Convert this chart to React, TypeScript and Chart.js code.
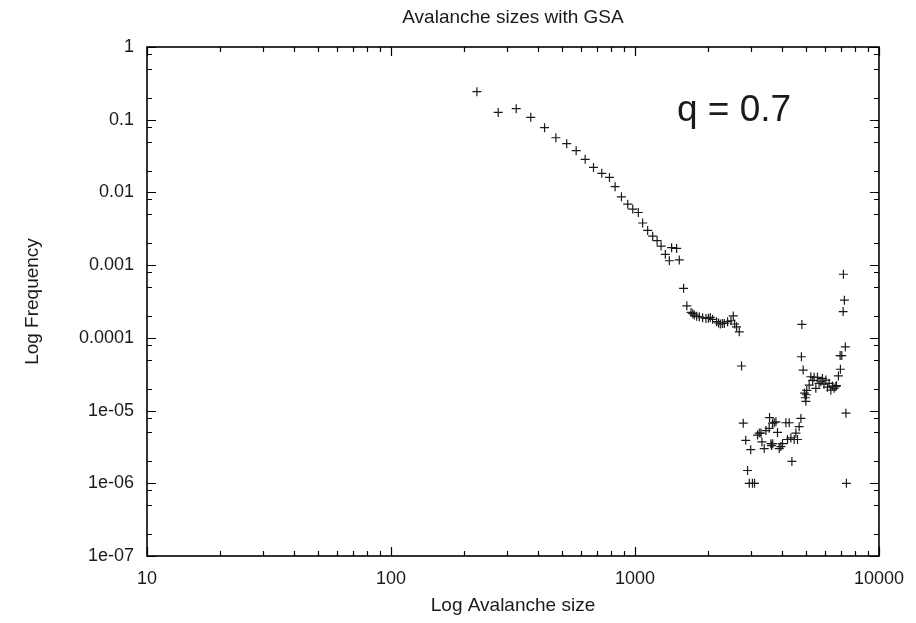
import React, { useEffect, useRef } from "react";
import { Chart, registerables } from "chart.js";

Chart.register(...registerables);

const chartTitle = "Avalanche sizes with GSA";
const xAxisTitle = "Log Avalanche size";
const yAxisTitle = "Log Frequency";
const annotationText = "q = 0.7";

const xTickValues = [10, 100, 1000, 10000];
const xTickLabels = ["10", "100", "1000", "10000"];
const yTickValues = [1, 0.1, 0.01, 0.001, 0.0001, 1e-5, 1e-6, 1e-7];
const yTickLabels = ["1", "0.1", "0.01", "0.001", "0.0001", "1e-05", "1e-06", "1e-07"];
const xMinorMultipliers = [2, 3, 4, 5, 6, 7, 8, 9];
const yMinorMultipliers = [2, 5, 8];

const avalancheSizes = [
  225, 275, 326, 374, 426, 474, 525, 574, 625, 676,
  731, 786, 829, 880, 934, 979, 1032, 1075, 1127, 1182,
  1232, 1279, 1332, 1383, 1413, 1481, 1519, 1582, 1631, 1697,
  1725, 1750, 1790, 1835, 1893, 1954, 2000, 2035, 2080, 2160,
  2200, 2237, 2280, 2323, 2396, 2474, 2528, 2560, 2608, 2675,
  2734, 2778, 2844, 2893, 2940, 2981, 3030, 3090, 3178, 3230,
  3282, 3314, 3387, 3441, 3549, 3560, 3607, 3628, 3661, 3670,
  3721, 3781, 3838, 3900, 3963, 4024, 4155, 4218, 4286, 4355,
  4397, 4493, 4565, 4635, 4709, 4786, 4810, 4830, 4890, 4950,
  4990, 5016, 5040, 5060, 5175, 5258, 5350, 5424, 5512, 5596,
  5680, 5779, 5866, 5950, 6056, 6150, 6248, 6349, 6446, 6550,
  6655, 6700, 6821, 6930, 6950, 7040, 7129, 7150, 7216, 7280,
  7320, 7355,
];

const frequencies = [
  0.243, 0.126, 0.142, 0.108, 0.0776, 0.0565, 0.0468, 0.0375, 0.0285, 0.0221,
  0.0183, 0.0161, 0.012, 0.0087, 0.0069, 0.0059, 0.0053, 0.0038, 0.003, 0.0025,
  0.00217, 0.00183, 0.00141, 0.00115, 0.00174, 0.0017, 0.00118, 0.00048, 0.000276, 0.000224,
  0.000215, 0.000206, 0.000198, 0.000195, 0.000189, 0.000185, 0.000186, 0.000191, 0.00018, 0.000167,
  0.00016, 0.000155, 0.000158, 0.000158, 0.000167, 0.000172, 0.0002, 0.000155, 0.000142, 0.000121,
  0.000041, 0.0000067, 0.0000039, 0.0000015, 0.000001, 0.0000029, 0.000001, 0.000001, 0.0000046, 0.0000049,
  0.0000049, 0.0000037, 0.000003, 0.0000053, 0.0000057, 0.000008, 0.0000035, 0.0000033, 0.0000067, 0.0000035,
  0.0000068, 0.000007, 0.000005, 0.000003, 0.0000032, 0.0000035, 0.0000068, 0.000004, 0.0000068, 0.0000042,
  0.000002, 0.000004, 0.0000049, 0.000004, 0.000006, 0.0000078, 0.000055, 0.000153, 0.000036, 0.0000174,
  0.000015, 0.0000134, 0.0000165, 0.000019, 0.0000224, 0.0000292, 0.000026, 0.0000287, 0.0000202, 0.0000287,
  0.0000237, 0.0000249, 0.0000277, 0.000023, 0.0000263, 0.000021, 0.0000237, 0.0000191, 0.0000217, 0.0000202,
  0.0000214, 0.000022, 0.00003, 0.000057, 0.000037, 0.000057, 0.00023, 0.00075, 0.00033, 0.000075,
  0.0000092, 0.000001,
];

const TEXT_COLOR = "#1a1a1a";
const FONT_FAMILY = "'Liberation Sans', Arial, Helvetica, sans-serif";

const framePlugin = {
  id: "gnuplotFrame",
  afterDraw(chart: any) {
    const { ctx, chartArea } = chart;
    const { left, right, top, bottom } = chartArea;
    const xs = chart.scales.x;
    const ys = chart.scales.y;
    ctx.save();
    ctx.strokeStyle = "#000";
    ctx.lineWidth = 1.2;
    const major = 9;
    const minor = 5;
    const drawX = (v: number, len: number) => {
      const px = Math.round(xs.getPixelForValue(v)) + 0.5;
      ctx.beginPath();
      ctx.moveTo(px, bottom);
      ctx.lineTo(px, bottom - len);
      ctx.moveTo(px, top);
      ctx.lineTo(px, top + len);
      ctx.stroke();
    };
    const drawY = (v: number, len: number) => {
      const py = Math.round(ys.getPixelForValue(v)) + 0.5;
      ctx.beginPath();
      ctx.moveTo(left, py);
      ctx.lineTo(left + len, py);
      ctx.moveTo(right, py);
      ctx.lineTo(right - len, py);
      ctx.stroke();
    };
    xTickValues.forEach((d) => {
      drawX(d, major);
      xMinorMultipliers.forEach((k) => {
        if (k * d <= 10000) drawX(k * d, minor);
      });
    });
    yTickValues.forEach((d) => {
      drawY(d, major);
      yMinorMultipliers.forEach((k) => {
        if (k * d <= 1) drawY(k * d, minor);
      });
    });
    // frame
    ctx.lineWidth = 1.6;
    ctx.strokeRect(left, top, right - left, bottom - top);

    // texts
    ctx.fillStyle = TEXT_COLOR;
    ctx.textAlign = "center";
    ctx.textBaseline = "middle";
    ctx.font = `19px ${FONT_FAMILY}`;
    const cx = (left + right) / 2;
    ctx.fillText(chartTitle, cx, 18);
    ctx.fillText(xAxisTitle, cx, 606);
    ctx.save();
    ctx.translate(33, (top + bottom) / 2);
    ctx.rotate(-Math.PI / 2);
    ctx.fillText(yAxisTitle, 0, 0);
    ctx.restore();

    ctx.textAlign = "left";
    ctx.textBaseline = "alphabetic";
    ctx.font = `37px ${FONT_FAMILY}`;
    ctx.fillText(annotationText, left + 530, 121);
    ctx.restore();
  },
};

export default function App() {
  const canvasRef = useRef<HTMLCanvasElement | null>(null);

  useEffect(() => {
    const canvas = canvasRef.current;
    if (!canvas) return;
    const points = avalancheSizes.map((x, i) => ({ x, y: frequencies[i] }));
    const chart = new Chart(canvas, {
      type: "scatter",
      data: {
        datasets: [
          {
            data: points,
            showLine: false,
            pointStyle: "cross",
            pointRadius: 4.5,
            pointHoverRadius: 4.5,
            borderColor: "#1a1a1a",
            backgroundColor: "#1a1a1a",
            borderWidth: 1.2,
          },
        ],
      },
      options: {
        animation: false,
        responsive: true,
        maintainAspectRatio: false,
        devicePixelRatio: 1,
        layout: { padding: { top: 47, right: 36, left: 0, bottom: 0 } },
        plugins: {
          legend: { display: false },
          tooltip: { enabled: false },
          title: { display: false },
        },
        scales: {
          x: {
            type: "logarithmic",
            min: 10,
            max: 10000,
            grid: { display: false, drawTicks: false },
            border: { display: false },
            afterBuildTicks: (scale: any) => {
              scale.ticks = xTickValues.map((v) => ({ value: v }));
            },
            afterFit: (scale: any) => {
              scale.height = 67;
            },
            ticks: {
              autoSkip: false,
              maxRotation: 0,
              padding: 12,
              color: TEXT_COLOR,
              font: { family: FONT_FAMILY, size: 18 },
              callback: (value: any) => {
                const i = xTickValues.findIndex((v) => Math.abs(v - value) / v < 1e-6);
                return i >= 0 ? xTickLabels[i] : "";
              },
            },
          },
          y: {
            type: "logarithmic",
            min: 1e-7,
            max: 1,
            grid: { display: false, drawTicks: false },
            border: { display: false },
            afterBuildTicks: (scale: any) => {
              scale.ticks = yTickValues.map((v) => ({ value: v }));
            },
            afterFit: (scale: any) => {
              scale.width = 147;
            },
            ticks: {
              autoSkip: false,
              padding: 13,
              color: TEXT_COLOR,
              font: { family: FONT_FAMILY, size: 18 },
              callback: (value: any) => {
                const i = yTickValues.findIndex((v) => Math.abs(v - value) / v < 1e-6);
                return i >= 0 ? yTickLabels[i] : "";
              },
            },
          },
        },
      },
      plugins: [framePlugin],
    });
    return () => chart.destroy();
  }, []);

  return (
    <div style={{ position: "absolute", left: 0, top: 0, width: 916, height: 623, background: "#fff" }}>
      <canvas ref={canvasRef} />
    </div>
  );
}
